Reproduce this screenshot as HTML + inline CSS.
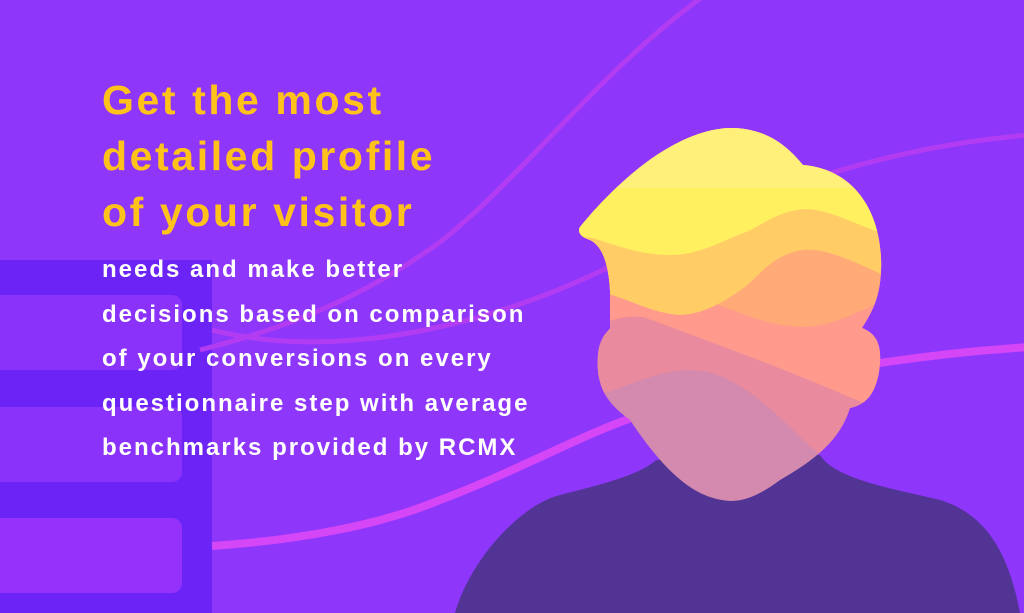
<!DOCTYPE html>
<html><head><style>
html,body{margin:0;padding:0}
body{width:1024px;height:613px;overflow:hidden;background:#8f36fb;position:relative;font-family:"Liberation Sans",sans-serif}
svg{position:absolute;left:0;top:0}
.t{position:absolute;left:102px;color:#ffc21a;font-weight:bold;font-size:41px;line-height:56px;top:72px;letter-spacing:2.6px}
.b{position:absolute;left:102px;color:#fff;font-weight:bold;font-size:24px;line-height:44.5px;top:248px;letter-spacing:2px}
</style></head><body>
<svg width="1024" height="613" viewBox="0 0 1024 613">
<rect x="0" y="260" width="212" height="353" fill="#6c24f6"/>
<rect x="-10" y="295" width="192" height="75" rx="10" fill="#8a32fa"/>
<rect x="-10" y="407" width="192" height="75" rx="10" fill="#8a32fa"/>
<rect x="-10" y="518" width="192" height="75" rx="10" fill="#9531fb"/>
<path d="M705 -5 C600 70 520 180 440 242 C360 300 280 330 200 350" stroke="#b23cf2" stroke-width="5" fill="none"/>
<path d="M212 330 C330 360 480 330 607 268 C720 210 850 150 1030 135" stroke="#b23cf2" stroke-width="5" fill="none"/>
<path d="M212 546 C300 540 380 525 440 500 C520 470 580 435 640 415 C760 380 900 355 1030 347" stroke="#d446f6" stroke-width="8" fill="none"/>
<path d="M455 613 C470 560 520 505 560 495 C600 485 640 475 656 460 L820 455 C835 480 900 490 940 500 C990 515 1010 560 1020 613 Z" fill="#523494"/>
<defs><clipPath id="h">
<path d="M580 227 C610 190 670 130 730 128 C770 128 790 150 803 165 C860 170 883 220 881 270 C880 300 870 315 862 328 C880 335 882 350 879 372 C875 395 865 405 850 408 C840 440 815 460 780 480 C760 495 745 501 732 501 C700 500 670 480 630 420 C610 405 595 390 598 354 C600 335 610 330 610 328 L610 290 C608 258 600 245 590 240 C578 236 578 230 580 227 Z"/>
</clipPath></defs>
<g clip-path="url(#h)">
<rect x="570" y="120" width="320" height="390" fill="#d38aae"/>
<path d="M560 120 H900 V460 L820 455 C780 420 740 370 690 370 C660 370 630 385 600 395 L560 400 Z" fill="#e98a9e"/>
<path d="M560 120 H900 V405 L861 402 C800 375 720 345 643 317 C620 315 605 322 600 328 L560 335 Z" fill="#ff9a8c"/>
<path d="M560 120 H900 V300 L874 305 C840 320 820 330 790 326 C750 322 720 300 690 300 C650 300 630 305 609 294 L560 290 Z" fill="#ffaa77"/>
<path d="M560 120 H900 V274 L881 274 C850 260 820 245 797 251 C770 258 760 275 745 287 C720 305 700 315 678 315 C650 312 630 300 609 294 L560 290 Z" fill="#ffcc66"/>
<path d="M560 120 H900 V231 L876 231 C850 222 820 205 797 210 C770 215 760 228 738 235 C715 245 695 255 671 255 C640 255 615 245 593 238 L560 235 Z" fill="#fff060"/>
<rect x="560" y="120" width="340" height="68" fill="#fff07a"/>
</g>
</svg>
<div class="t">Get the most<br>detailed profile<br>of your visitor</div>
<div class="b">needs and make better<br>decisions based on comparison<br>of your conversions on every<br>questionnaire step with average<br>benchmarks provided by RCMX</div>
</body></html>
